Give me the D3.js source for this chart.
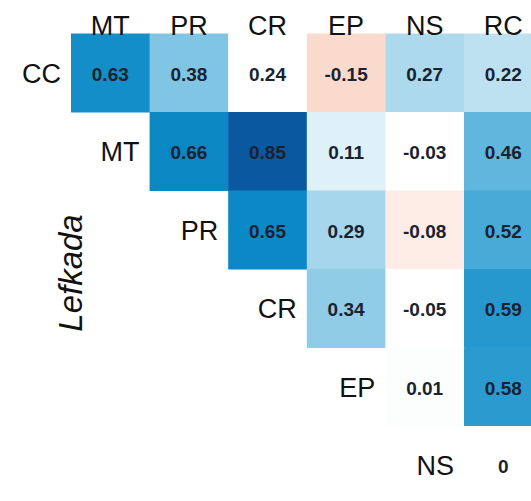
<!DOCTYPE html>
<html>
<head lang="en">
    <meta charset="UTF-8">
    <title></title>
    <script src="https://cdn.jsdelivr.net/npm/d3@7/dist/d3.min.js"></script>
    <style>
        body { margin: 0; background: #fff; }
    </style>
</head>
<body>
<div id="chart"></div>
<script>
    // rows / columns of the upper triangle
    var rowVars = ["CC", "MT", "PR", "CR", "EP", "NS"];
    var colVars = ["MT", "PR", "CR", "EP", "NS", "RC"];
    // correlation values, row i starts at column i
    var corrRows = [
        [0.63, 0.38, 0.24, -0.15, 0.27, 0.22],
        [0.66, 0.85, 0.11, -0.03, 0.46],
        [0.65, 0.29, -0.08, 0.52],
        [0.34, -0.05, 0.59],
        [0.01, 0.58],
        [0]
    ];
    // cells left uncoloured in the figure
    var blankCells = ["CC-CR", "MT-NS", "CR-NS"];
    var siteLabel = "Lefkada";

    var cells = [];
    corrRows.forEach(function(vals, i){
        vals.forEach(function(v, k){
            cells.push({row: rowVars[i], col: colVars[i + k], value: v});
        });
    });

    var width = 531, height = 501;
    var svg = d3.select("#chart").append("svg")
            .attr("width", width)
            .attr("height", height);

    var x = d3.scaleBand().domain(colVars).range([71, 71 + 6 * 78.6]);
    var y = d3.scaleBand().domain(rowVars).range([33.5, 33.5 + 6 * 78.5]);

    var color = d3.scaleLinear()
            .domain([-0.2, 0, 0.25, 0.5, 0.65, 0.85])
            .range(["#f9cdbd", "#ffffff", "#b5ddef", "#50afda", "#0b89c6", "#0a58a0"]);

    var g = svg.append("g");

    g.selectAll("rect.cell")
            .data(cells)
            .enter().append("rect")
            .attr("class", "cell")
            .attr("x", function(d){ return x(d.col); })
            .attr("y", function(d){ return y(d.row); })
            .attr("width", x.bandwidth() + 0.5)
            .attr("height", y.bandwidth() + 0.5)
            .attr("fill", function(d){
                return blankCells.indexOf(d.row + "-" + d.col) >= 0 ? "#ffffff" : color(d.value);
            });

    g.selectAll("text.val")
            .data(cells)
            .enter().append("text")
            .attr("class", "val")
            .attr("x", function(d){ return x(d.col) + x.bandwidth() / 2; })
            .attr("y", function(d){ return y(d.row) + y.bandwidth() / 2 + 8; })
            .attr("text-anchor", "middle")
            .attr("font-family", "Liberation Sans, Arial, sans-serif")
            .attr("font-weight", "bold")
            .attr("font-size", 19)
            .attr("fill", "#1a2230")
            .text(function(d){ return String(d.value); });

    // column labels on top
    g.selectAll("text.colLab")
            .data(colVars)
            .enter().append("text")
            .attr("class", "colLab")
            .attr("x", function(d){ return x(d) + x.bandwidth() / 2; })
            .attr("y", 35)
            .attr("text-anchor", "middle")
            .attr("font-family", "Liberation Sans, Arial, sans-serif")
            .attr("font-size", 27)
            .attr("fill", "#111")
            .text(function(d){ return d; });

    // row labels sit left of the diagonal cell
    g.selectAll("text.rowLab")
            .data(rowVars)
            .enter().append("text")
            .attr("class", "rowLab")
            .attr("x", function(d, i){ return x(colVars[i]) - 10; })
            .attr("y", function(d){ return y(d) + y.bandwidth() / 2 + 10; })
            .attr("text-anchor", "end")
            .attr("font-family", "Liberation Sans, Arial, sans-serif")
            .attr("font-size", 27)
            .attr("fill", "#111")
            .text(function(d){ return d; });

    svg.append("text")
            .attr("transform", "translate(82,273) rotate(-90)")
            .attr("text-anchor", "middle")
            .attr("font-family", "Liberation Sans, Arial, sans-serif")
            .attr("font-style", "italic")
            .attr("font-size", 33)
            .attr("fill", "#111")
            .text(siteLabel);
</script>
</body>
</html>
